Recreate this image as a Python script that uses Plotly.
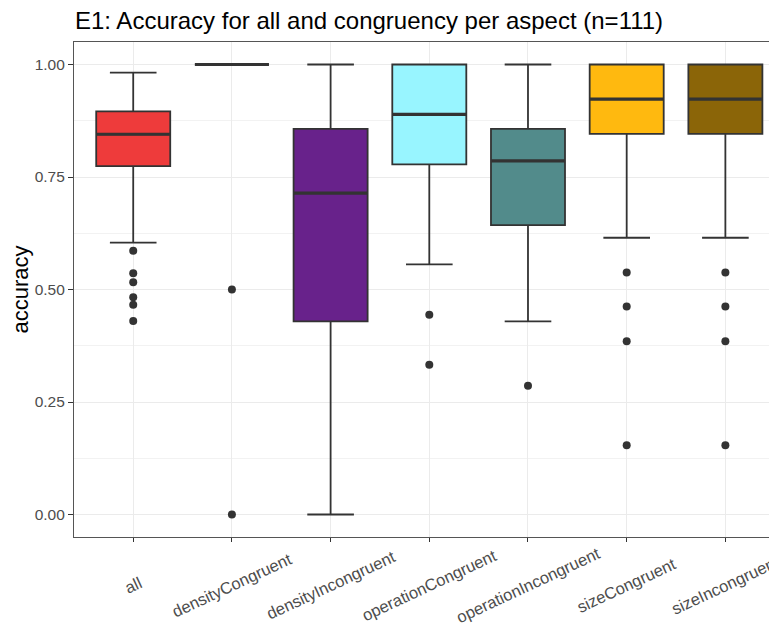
import plotly.graph_objects as go

categories = ["all", "densityCongruent", "densityIncongruent", "operationCongruent",
              "operationIncongruent", "sizeCongruent", "sizeIncongruent"]
lower_whisker = [0.604, 1.0, 0.0, 0.556, 0.429, 0.615, 0.615]
q1 = [0.774, 1.0, 0.429, 0.778, 0.643, 0.846, 0.846]
median = [0.845, 1.0, 0.714, 0.889, 0.786, 0.923, 0.923]
q3 = [0.896, 1.0, 0.857, 1.0, 0.857, 1.0, 1.0]
upper_whisker = [0.982, 1.0, 1.0, 1.0, 1.0, 1.0, 1.0]
outliers = [
    [0.586, 0.536, 0.516, 0.483, 0.466, 0.430],
    [0.5, 0.0],
    [],
    [0.444, 0.333],
    [0.286],
    [0.538, 0.462, 0.385, 0.154],
    [0.538, 0.462, 0.385, 0.154],
]
colors = ["#EE3B3B", "#BF3EFF", "#68228B", "#98F5FF", "#528B8B", "#FFB90F", "#8B6508"]
y_ticks = [0.0, 0.25, 0.5, 0.75, 1.0]
y_tick_text = ["0.00", "0.25", "0.50", "0.75", "1.00"]
title_text = "E1: Accuracy for all and congruency per aspect (n=111)"
y_title = "accuracy"

FONT = "Liberation Sans, Arial, sans-serif"
W, H = 777, 623
fig = go.Figure()
for i, c in enumerate(categories):
    fig.add_trace(go.Box(
        x=[c], q1=[q1[i]], median=[median[i]], q3=[q3[i]],
        lowerfence=[lower_whisker[i]], upperfence=[upper_whisker[i]],
        fillcolor=colors[i], line=dict(color="#333333", width=1.8),
        width=0.75, whiskerwidth=0.63, boxpoints=False, showlegend=False,
        hoverinfo="skip",
    ))
    # thicker median bar (ggplot style)
    fig.add_trace(go.Box(
        x=[c], q1=[median[i]], median=[median[i]], q3=[median[i]],
        lowerfence=[median[i]], upperfence=[median[i]],
        fillcolor="rgba(0,0,0,0)", line=dict(color="#333333", width=3.2),
        width=0.75, whiskerwidth=0, boxpoints=False, showlegend=False,
        hoverinfo="skip",
    ))
    if outliers[i]:
        fig.add_trace(go.Scatter(
            x=[c] * len(outliers[i]), y=outliers[i], mode="markers",
            marker=dict(color="#333333", size=8), showlegend=False, hoverinfo="skip",
        ))

# x tick labels as rotated annotations centred on the ticks
for c in categories:
    fig.add_annotation(x=c, xref="x", y=-48 / 495, yref="paper", text=c, showarrow=False,
                       textangle=-25, font=dict(family=FONT, size=16.5, color="#4D4D4D"),
                       xanchor="center", yanchor="middle")

fig.update_layout(
    width=W, height=H,
    margin=dict(l=66, r=8, t=34, b=94, autoexpand=False),
    paper_bgcolor="white", plot_bgcolor="white",
    font=dict(family=FONT),
    title=dict(text=title_text, x=67 / W, xanchor="left", y=1 - 13 / H, yanchor="middle",
               font=dict(family=FONT, size=24, color="black")),
    boxmode="overlay",
)
fig.update_xaxes(
    type="category", categoryorder="array", categoryarray=categories,
    range=[-0.6, 6.523], showticklabels=False, automargin=False,
    showgrid=True, gridcolor="#EBEBEB", gridwidth=1.1,
    showline=True, linecolor="#555555", linewidth=1.2, mirror=True,
    ticks="outside", ticklen=4, tickcolor="#333333", zeroline=False,
)
fig.update_yaxes(
    range=[-0.05, 1.05], tickvals=y_ticks, ticktext=y_tick_text, automargin=False,
    tickfont=dict(family=FONT, size=15.5, color="#4D4D4D"),
    showgrid=True, gridcolor="#EBEBEB", gridwidth=1.1,
    minor=dict(dtick=0.125, tick0=0, showgrid=True, gridcolor="#F2F2F2", gridwidth=0.6),
    showline=True, linecolor="#555555", linewidth=1.2,
    ticks="outside", ticklen=5, tickcolor="#333333", zeroline=False,
    title=dict(text=y_title, font=dict(family=FONT, size=22, color="black"), standoff=0),
)
fig.write_html("out.html")
